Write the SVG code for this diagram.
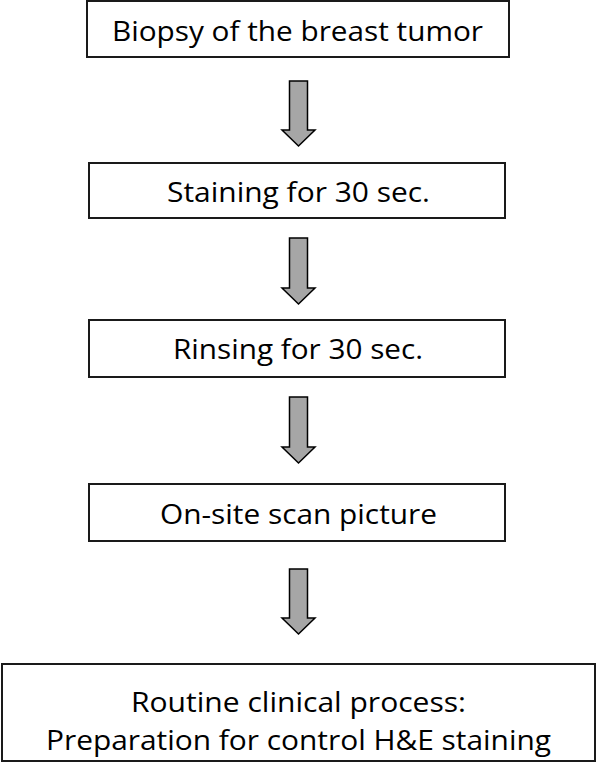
<svg xmlns="http://www.w3.org/2000/svg" width="597" height="762" viewBox="0 0 597 762">
<style>
.box{fill:#ffffff;stroke:#1a1a1a;stroke-width:2}
.lbl{font-family:"Open Sans","Lato","Liberation Sans",sans-serif;font-size:27px;fill:#000000;text-anchor:middle}
.arr{fill:#a6a6a6;stroke:#000000;stroke-width:1.5;stroke-linejoin:miter}
</style>
<rect x="0" y="0" width="597" height="762" fill="#ffffff"/>
<g id="connectors">
<polygon class="arr" points="289.5,81 307.5,81 307.5,130 315,130 298.5,146 282,130 289.5,130"/>
<polygon class="arr" points="289.5,238 307.5,238 307.5,288 315,288 298.5,304 282,288 289.5,288"/>
<polygon class="arr" points="289.5,397 307.5,397 307.5,447 315,447 298.5,463 282,447 289.5,447"/>
<polygon class="arr" points="289.5,569 307.5,569 307.5,618 315,618 298.5,634 282,618 289.5,618"/>
</g>
<g id="node1">
<rect class="box" x="87" y="1" width="422" height="56"/>
<text class="lbl" x="297.5" y="41" textLength="371" lengthAdjust="spacingAndGlyphs">Biopsy of the breast tumor</text>
</g>
<g id="node2">
<rect class="box" x="89" y="163" width="416" height="55"/>
<text class="lbl" x="298.5" y="201.5" textLength="263" lengthAdjust="spacingAndGlyphs">Staining for 30 sec.</text>
</g>
<g id="node3">
<rect class="box" x="89" y="320" width="416" height="57"/>
<text class="lbl" x="298" y="359" textLength="250" lengthAdjust="spacingAndGlyphs">Rinsing for 30 sec.</text>
</g>
<g id="node4">
<rect class="box" x="89" y="484" width="416" height="57"/>
<text class="lbl" x="298.5" y="524" textLength="277" lengthAdjust="spacingAndGlyphs">On-site scan picture</text>
</g>
<g id="node5">
<rect class="box" x="2" y="664" width="593" height="97"/>
<text class="lbl" x="298.5" y="712" textLength="335" lengthAdjust="spacingAndGlyphs">Routine clinical process:</text>
<text class="lbl" x="298.5" y="750" textLength="505" lengthAdjust="spacingAndGlyphs">Preparation for control H&amp;E staining</text>
</g>
</svg>
